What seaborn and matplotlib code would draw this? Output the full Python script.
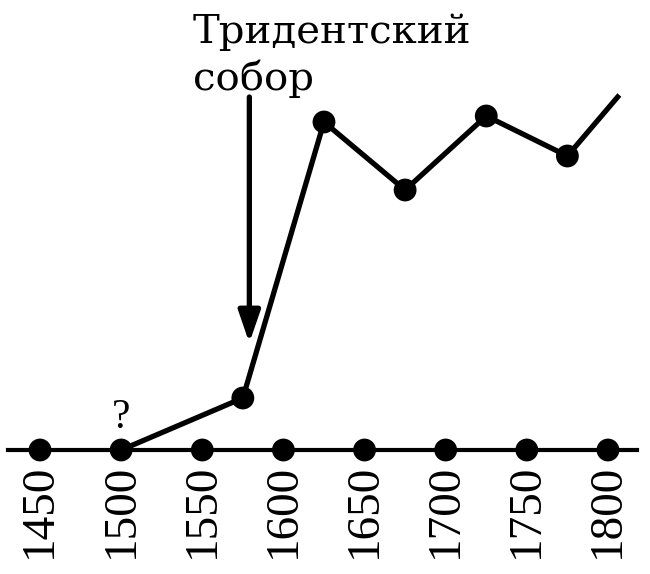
import matplotlib
matplotlib.use("Agg")
import matplotlib.pyplot as plt
import seaborn as sns
import numpy as np

# --- data ---
tick_years = [1450, 1500, 1550, 1600, 1650, 1700, 1750, 1800]
tick_labels = ["1450", "1500", "1550", "1600", "1650", "1700", "1750", "1800"]
series_years = [1500, 1575, 1625, 1675, 1725, 1775, 1807]
series_values = [0, 52, 328, 260, 334, 294, 355]
marker_years = [1575, 1625, 1675, 1725, 1775]
marker_values = [52, 328, 260, 334, 294]
annotation_lines = ["Тридентский", "собор"]
question_year = 1500
trent_year = 1579

sns.set_theme(style="white")
plt.rcParams['font.family'] = ['Liberation Serif', 'DejaVu Serif']

fig = plt.figure(figsize=(6.5, 5.74), dpi=100)
ax = fig.add_axes([0, 0, 1, 1])
ax.set_facecolor("white")

# series line
sns.lineplot(x=series_years, y=series_values, ax=ax, color="black",
             linewidth=3.8, solid_capstyle="butt", clip_on=False)
# markers on the series
sns.scatterplot(x=marker_years, y=marker_values, ax=ax, color="black",
                s=270, edgecolor="none", zorder=5, clip_on=False)
# dots on the axis
sns.scatterplot(x=tick_years, y=[0] * len(tick_years), ax=ax, color="black",
                s=270, edgecolor="none", zorder=5, clip_on=False)

ax.set_xlim(1425.35, 1825.9)
ax.set_ylim(-124, 450)

for s in ["top", "right", "left"]:
    ax.spines[s].set_visible(False)
ax.spines["bottom"].set_position(("data", 0))
ax.spines["bottom"].set_bounds(1430.3, 1817.8)
ax.spines["bottom"].set_linewidth(3.0)
ax.spines["bottom"].set_color("black")
ax.set_yticks([])
ax.set_xticks(tick_years)
ax.set_xticklabels(tick_labels, rotation=90, fontsize=34)
ax.tick_params(axis="x", length=0, pad=10, colors="black")
ax.set_xlabel("")
ax.set_ylabel("")

# question mark
ax.text(question_year, 13, "?", ha="center", va="bottom", fontsize=30, color="black")

# annotation
ann_font = dict(family=["DejaVu Serif"], fontsize=29, color="black")
ax.text(1544.3, 407, annotation_lines[0], ha="left", va="baseline", **ann_font)
ax.text(1544.3, 360, annotation_lines[1], ha="left", va="baseline", **ann_font)
ax.annotate("", xy=(trent_year, 107), xytext=(trent_year, 353),
            arrowprops=dict(arrowstyle="-|>,head_length=1.6,head_width=0.55",
                            color="black", lw=3.8, shrinkA=0, shrinkB=0))

fig.savefig("out.png", dpi=100, facecolor="white")
